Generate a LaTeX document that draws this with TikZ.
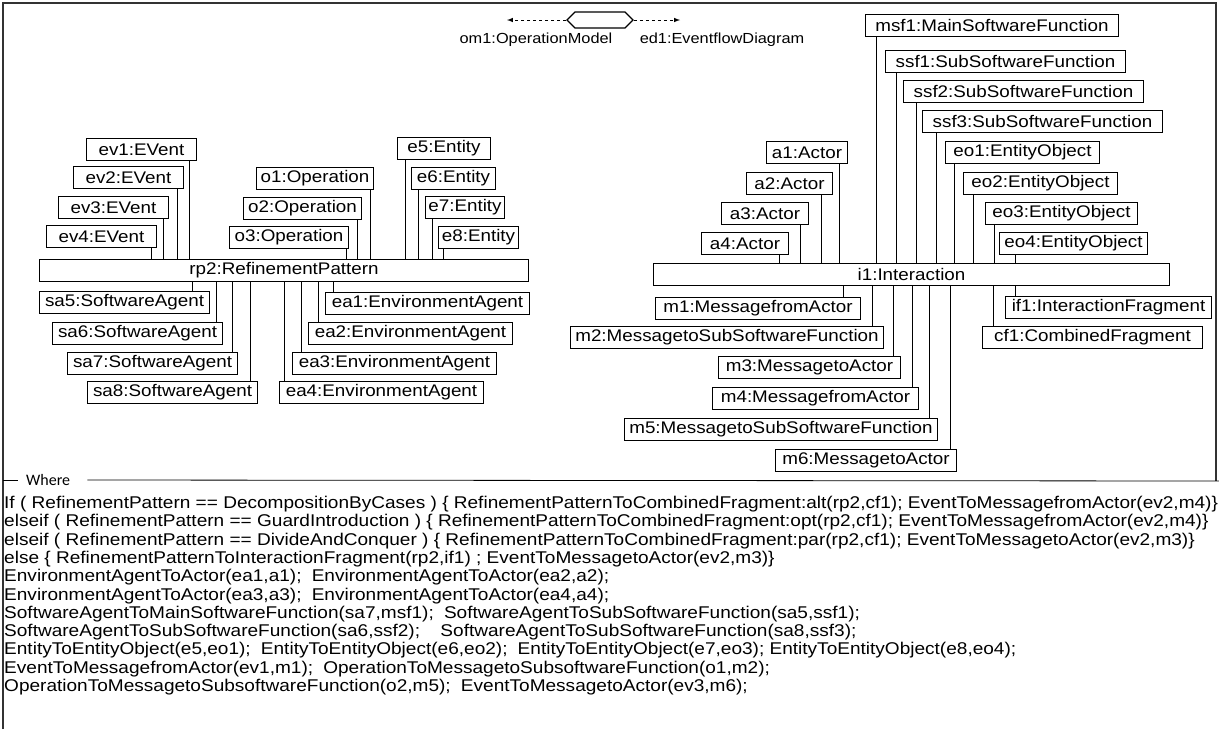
\documentclass[tikz,border=0pt]{standalone}
\usepackage{fontspec}
\setmainfont{Liberation Sans}[FakeStretch=1.12]
\newfontfamily\wherefont{Carlito}
\usetikzlibrary{shapes,arrows}
\usetikzlibrary{shapes.symbols}
\usetikzlibrary{positioning}
\tikzstyle{obj} = [draw, rectangle, line width=1pt, minimum height=22pt,
    inner sep=0pt, anchor=north west, font=\fontsize{16.8}{19}\selectfont]
\tikzstyle{link} = [draw, line width=1pt]
\tikzstyle{flow} = [draw, dashed, line width=1pt, -latex]
\tikzstyle{caption} = [font=\fontsize{14.6}{16}\selectfont]
\tikzstyle{frame} = [draw, line width=1.4pt, black!80]

\begin{document}
\begin{tikzpicture}[x=1pt, y=-1pt]
  \useasboundingbox (0,0) rectangle (1219,729);
  % Frame
  \coordinate (tl) at (3,3);
  \coordinate (tr) at (1216,3);
  \coordinate (bl) at (3,729);
  \coordinate (wr) at (1219,481);
  \path [frame] (bl) -- (tl) -- (tr) -- (1216,481);

  % Top: models
  \node [draw, line width=1.2pt, signal, signal to=east and west,
         minimum width=66pt, minimum height=16pt, inner sep=0pt] (hex) at (600,20) {};
  \coordinate (om) at (507,20);
  \coordinate (ed) at (680,20);
  \path [flow] (hex.west) -- (om);
  \path [flow] (hex.east) -- (ed);
  \node [caption] (omlabel) at (536,40) {om1:OperationModel};
  \node [caption] (edlabel) at (722,40) {ed1:EventflowDiagram};

  % Left: refinement pattern
  \node [obj, minimum width=489pt] (rp2) at (39,259) {rp2:RefinementPattern};
  \node [obj, minimum width=110pt] (ev1) at (86,138) {ev1:EVent};
  \node [obj, minimum width=110pt] (ev2) at (73,166) {ev2:EVent};
  \node [obj, minimum width=110pt] (ev3) at (58,196) {ev3:EVent};
  \node [obj, minimum width=110pt] (ev4) at (46,225) {ev4:EVent};
  \node [obj, minimum width=117pt] (o1) at (256,167) {o1:Operation};
  \node [obj, minimum width=118pt] (o2) at (243,197) {o2:Operation};
  \node [obj, minimum width=119pt] (o3) at (229,226) {o3:Operation};
  \node [obj, minimum width=93pt] (e5) at (397,137) {e5:Entity};
  \node [obj, minimum width=84pt] (e6) at (411,167) {e6:Entity};
  \node [obj, minimum width=79pt] (e7) at (425,196) {e7:Entity};
  \node [obj, minimum width=80pt] (e8) at (438,226) {e8:Entity};
  \node [obj, minimum width=170pt] (sa5) at (39,291) {sa5:SoftwareAgent};
  \node [obj, minimum width=170pt] (sa6) at (52,322) {sa6:SoftwareAgent};
  \node [obj, minimum width=170pt] (sa7) at (67,352) {sa7:SoftwareAgent};
  \node [obj, minimum width=170pt] (sa8) at (87,381) {sa8:SoftwareAgent};
  \node [obj, minimum width=204pt] (ea1) at (325,292) {ea1:EnvironmentAgent};
  \node [obj, minimum width=204pt] (ea2) at (308,322) {ea2:EnvironmentAgent};
  \node [obj, minimum width=204pt] (ea3) at (292,352) {ea3:EnvironmentAgent};
  \node [obj, minimum width=204pt] (ea4) at (279,381) {ea4:EnvironmentAgent};

  \path [link] ([xshift=-8pt]ev1.south east) -- ([xshift=-8pt]ev1.south east |- rp2.north);
  \path [link] ([xshift=-7pt]ev2.south east) -- ([xshift=-7pt]ev2.south east |- rp2.north);
  \path [link] ([xshift=-6pt]ev3.south east) -- ([xshift=-6pt]ev3.south east |- rp2.north);
  \path [link] ([xshift=-6pt]ev4.south east) -- ([xshift=-6pt]ev4.south east |- rp2.north);
  \path [link] ([xshift=-4pt]o1.south east) -- ([xshift=-4pt]o1.south east |- rp2.north);
  \path [link] ([xshift=-5pt]o2.south east) -- ([xshift=-5pt]o2.south east |- rp2.north);
  \path [link] ([xshift=-3pt]o3.south east) -- ([xshift=-3pt]o3.south east |- rp2.north);
  \path [link] ([xshift=8pt]e5.south west) -- ([xshift=8pt]e5.south west |- rp2.north);
  \path [link] ([xshift=7pt]e6.south west) -- ([xshift=7pt]e6.south west |- rp2.north);
  \path [link] ([xshift=7pt]e7.south west) -- ([xshift=7pt]e7.south west |- rp2.north);
  \path [link] ([xshift=5pt]e8.south west) -- ([xshift=5pt]e8.south west |- rp2.north);
  \path [link] ([xshift=-18pt]sa5.north east) -- ([xshift=-18pt]sa5.north east |- rp2.south);
  \path [link] ([xshift=-7pt]sa6.north east) -- ([xshift=-7pt]sa6.north east |- rp2.south);
  \path [link] ([xshift=-6pt]sa7.north east) -- ([xshift=-6pt]sa7.north east |- rp2.south);
  \path [link] ([xshift=-8pt]sa8.north east) -- ([xshift=-8pt]sa8.north east |- rp2.south);
  \path [link] ([xshift=8pt]ea1.north west) -- ([xshift=8pt]ea1.north west |- rp2.south);
  \path [link] ([xshift=10pt]ea2.north west) -- ([xshift=10pt]ea2.north west |- rp2.south);
  \path [link] ([xshift=9pt]ea3.north west) -- ([xshift=9pt]ea3.north west |- rp2.south);
  \path [link] ([xshift=5pt]ea4.north west) -- ([xshift=5pt]ea4.north west |- rp2.south);

  % Right: interaction
  \node [obj, minimum width=516pt] (i1) at (653,263) {i1:Interaction};
  \node [obj, minimum width=253pt] (msf1) at (865,14) {msf1:MainSoftwareFunction};
  \node [obj, minimum width=240pt] (ssf1) at (885,50) {ssf1:SubSoftwareFunction};
  \node [obj, minimum width=240pt] (ssf2) at (903,80) {ssf2:SubSoftwareFunction};
  \node [obj, minimum width=240pt] (ssf3) at (922,110) {ssf3:SubSoftwareFunction};
  \node [obj, minimum width=154pt] (eo1) at (945,141) {eo1:EntityObject};
  \node [obj, minimum width=154pt] (eo2) at (963,172) {eo2:EntityObject};
  \node [obj, minimum width=152pt] (eo3) at (985,202) {eo3:EntityObject};
  \node [obj, minimum width=148pt] (eo4) at (999,232) {eo4:EntityObject};
  \node [obj, minimum width=81pt] (a1) at (766,141) {a1:Actor};
  \node [obj, minimum width=86pt] (a2) at (746,172) {a2:Actor};
  \node [obj, minimum width=87pt] (a3) at (721,202) {a3:Actor};
  \node [obj, minimum width=87pt] (a4) at (701,232) {a4:Actor};
  \node [obj, minimum width=205pt] (m1) at (655,297) {m1:MessagefromActor};
  \node [obj, minimum width=313pt] (m2) at (570,326) {m2:MessagetoSubSoftwareFunction};
  \node [obj, minimum width=182pt] (m3) at (718,356) {m3:MessagetoActor};
  \node [obj, minimum width=206pt] (m4) at (712,387) {m4:MessagefromActor};
  \node [obj, minimum width=313pt] (m5) at (624,418) {m5:MessagetoSubSoftwareFunction};
  \node [obj, minimum width=181pt] (m6) at (775,449) {m6:MessagetoActor};
  \node [obj, minimum width=206pt] (if1) at (1005,296) {if1:InteractionFragment};
  \node [obj, minimum width=220pt] (cf1) at (982,326) {cf1:CombinedFragment};

  \path [link] ([xshift=11pt]msf1.south west) -- ([xshift=11pt]msf1.south west |- i1.north);
  \path [link] ([xshift=11pt]ssf1.south west) -- ([xshift=11pt]ssf1.south west |- i1.north);
  \path [link] ([xshift=13pt]ssf2.south west) -- ([xshift=13pt]ssf2.south west |- i1.north);
  \path [link] ([xshift=14pt]ssf3.south west) -- ([xshift=14pt]ssf3.south west |- i1.north);
  \path [link] ([xshift=9pt]eo1.south west) -- ([xshift=9pt]eo1.south west |- i1.north);
  \path [link] ([xshift=10pt]eo2.south west) -- ([xshift=10pt]eo2.south west |- i1.north);
  \path [link] ([xshift=9pt]eo3.south west) -- ([xshift=9pt]eo3.south west |- i1.north);
  \path [link] ([xshift=16pt]eo4.south west) -- ([xshift=16pt]eo4.south west |- i1.north);
  \path [link] ([xshift=-9pt]a1.south east) -- ([xshift=-9pt]a1.south east |- i1.north);
  \path [link] ([xshift=-12pt]a2.south east) -- ([xshift=-12pt]a2.south east |- i1.north);
  \path [link] ([xshift=-9pt]a3.south east) -- ([xshift=-9pt]a3.south east |- i1.north);
  \path [link] ([xshift=-10pt]a4.south east) -- ([xshift=-10pt]a4.south east |- i1.north);
  \path [link] ([xshift=-18pt]m1.north east) -- ([xshift=-18pt]m1.north east |- i1.south);
  \path [link] ([xshift=-12pt]m2.north east) -- ([xshift=-12pt]m2.north east |- i1.south);
  \path [link] ([xshift=-8pt]m3.north east) -- ([xshift=-8pt]m3.north east |- i1.south);
  \path [link] ([xshift=-7pt]m4.north east) -- ([xshift=-7pt]m4.north east |- i1.south);
  \path [link] ([xshift=-9pt]m5.north east) -- ([xshift=-9pt]m5.north east |- i1.south);
  \path [link] ([xshift=-7pt]m6.north east) -- ([xshift=-7pt]m6.north east |- i1.south);
  \path [link] ([xshift=10pt]if1.north west) -- ([xshift=10pt]if1.north west |- i1.south);
  \path [link] ([xshift=11pt]cf1.north west) -- ([xshift=11pt]cf1.north west |- i1.south);

  % Where
  \node [font=\wherefont\fontsize{16}{18}\selectfont, anchor=west, inner sep=0pt] (where) at (26,480) {Where};
  \path [draw, line width=0.8pt] (tl |- where) -- ++(15,0);
  \path [draw, line width=0.8pt] (where.east) ++(17,0) -- (wr);
  \node [anchor=north west, inner sep=0pt, align=left,
         font=\fontsize{17}{18.3}\selectfont] (rules) at (4,496) {%
If ( RefinementPattern == DecompositionByCases ) \{ RefinementPatternToCombinedFragment:alt(rp2,cf1); EventToMessagefromActor(ev2,m4)\}\\
elseif ( RefinementPattern == GuardIntroduction ) \{ RefinementPatternToCombinedFragment:opt(rp2,cf1); EventToMessagefromActor(ev2,m4)\}\\
elseif ( RefinementPattern == DivideAndConquer ) \{ RefinementPatternToCombinedFragment:par(rp2,cf1); EventToMessagetoActor(ev2,m3)\}\\
else \{ RefinementPatternToInteractionFragment(rp2,if1) ; EventToMessagetoActor(ev2,m3)\}\\
EnvironmentAgentToActor(ea1,a1);\hspace{0.6em}EnvironmentAgentToActor(ea2,a2);\\
EnvironmentAgentToActor(ea3,a3);\hspace{0.6em}EnvironmentAgentToActor(ea4,a4);\\
SoftwareAgentToMainSoftwareFunction(sa7,msf1);\hspace{0.6em}SoftwareAgentToSubSoftwareFunction(sa5,ssf1);\\
SoftwareAgentToSubSoftwareFunction(sa6,ssf2);\hspace{1.2em}SoftwareAgentToSubSoftwareFunction(sa8,ssf3);\\
EntityToEntityObject(e5,eo1);\hspace{0.6em}EntityToEntityObject(e6,eo2);\hspace{0.6em}EntityToEntityObject(e7,eo3); EntityToEntityObject(e8,eo4);\\
EventToMessagefromActor(ev1,m1);\hspace{0.6em}OperationToMessagetoSubsoftwareFunction(o1,m2);\\
OperationToMessagetoSubsoftwareFunction(o2,m5);\hspace{0.6em}EventToMessagetoActor(ev3,m6);};
\end{tikzpicture}
\end{document}
